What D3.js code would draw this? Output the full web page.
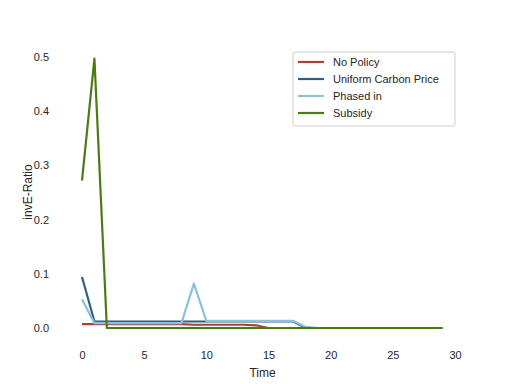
<!DOCTYPE html>
<html>
<head>
<meta charset="utf-8">
<script src="https://cdn.jsdelivr.net/npm/d3@7"></script>
<style>
  body { margin: 0; background: #fff; }
  text { font-family: "Liberation Sans", Arial, sans-serif; }
</style>
</head>
<body>
<div id="chart"></div>
<script>
// values, one per time step 0..29
const time = d3.range(0, 30);
const seriesNames = ["No Policy", "Uniform Carbon Price", "Phased in", "Subsidy"];
const noPolicy = [0.007, 0.007, 0.007, 0.007, 0.007, 0.007, 0.007, 0.007, 0.007, 0.006, 0.006, 0.006, 0.006, 0.006, 0.005, 0,
  0, 0, 0, 0, 0, 0, 0, 0, 0, 0, 0, 0, 0, 0];
const uniformCarbon = [0.094, 0.012, 0.012, 0.012, 0.012, 0.012, 0.012, 0.012, 0.012, 0.012, 0.012, 0.012, 0.012, 0.012, 0.012, 0.012,
  0.012, 0.012, 0, 0, 0, 0, 0, 0, 0, 0, 0, 0, 0, 0];
const phasedIn = [0.053, 0.009, 0.009, 0.009, 0.009, 0.009, 0.009, 0.009, 0.009, 0.082, 0.013, 0.013, 0.013, 0.013, 0.013, 0.013,
  0.013, 0.013, 0.002, 0, 0, 0, 0, 0, 0, 0, 0, 0, 0, 0];
const subsidy = [0.272, 0.497, 0, 0, 0, 0, 0, 0, 0, 0, 0, 0, 0, 0, 0, 0,
  0, 0, 0, 0, 0, 0, 0, 0, 0, 0, 0, 0, 0, 0];
const xTicks = [0, 5, 10, 15, 20, 25, 30];
const yTicks = [0, 0.1, 0.2, 0.3, 0.4, 0.5];
const colors = ["#a3433b", "#2d5f8b", "#8ec0dc", "#4b7c12"];

const allSeries = [noPolicy, uniformCarbon, phasedIn, subsidy];

const width = 512, height = 384;
const svg = d3.select("#chart").append("svg")
  .attr("width", width)
  .attr("height", height);

const x = d3.scaleLinear().domain([0, 30]).range([82, 455]);
const y = d3.scaleLinear().domain([0, 0.5]).range([328, 57]);

// axes without lines or ticks (seaborn white style)
const xAxis = svg.append("g")
  .attr("transform", "translate(0,348)")
  .call(d3.axisBottom(x).tickValues(xTicks).tickSize(0).tickFormat(d3.format("d")));
xAxis.select(".domain").remove();
xAxis.selectAll("text").attr("font-size", 11).attr("fill", "#262626").attr("font-family", "Liberation Sans, Arial, sans-serif");

const yAxis = svg.append("g")
  .attr("transform", "translate(52,0)")
  .call(d3.axisLeft(y).tickValues(yTicks).tickSize(0).tickFormat(d3.format(".1f")));
yAxis.select(".domain").remove();
yAxis.selectAll("text").attr("font-size", 11).attr("fill", "#262626").attr("font-family", "Liberation Sans, Arial, sans-serif");

svg.append("text")
  .attr("x", (x(0) + x(30)) / 2 - 6)
  .attr("y", 377)
  .attr("text-anchor", "middle")
  .attr("font-size", 12)
  .attr("fill", "#262626")
  .text("Time");

svg.append("text")
  .attr("transform", "translate(32,192) rotate(-90)")
  .attr("text-anchor", "middle")
  .attr("font-size", 12)
  .attr("fill", "#262626")
  .text("invE-Ratio");

const line = d3.line()
  .x((d, i) => x(time[i]))
  .y(d => y(d));

allSeries.forEach((vals, k) => {
  svg.append("path")
    .datum(vals)
    .attr("d", line)
    .attr("fill", "none")
    .attr("stroke", colors[k])
    .attr("stroke-width", 2.2)
    .attr("stroke-linejoin", "round");
});

// legend
const legend = svg.append("g").attr("transform", "translate(293,52)");
legend.append("rect")
  .attr("x", 0).attr("y", 0)
  .attr("width", 162).attr("height", 74)
  .attr("fill", "#fff")
  .attr("stroke", "#cccccc")
  .attr("stroke-width", 1)
  .attr("rx", 2);
seriesNames.forEach((name, i) => {
  const ly = 10 + i * 17;
  legend.append("line")
    .attr("x1", 5).attr("x2", 31)
    .attr("y1", ly).attr("y2", ly)
    .attr("stroke", colors[i])
    .attr("stroke-width", 2.2);
  legend.append("text")
    .attr("x", 40).attr("y", ly)
    .attr("dy", "0.35em")
    .attr("font-size", 11)
    .attr("fill", "#262626")
    .text(name);
});
</script>
</body>
</html>
